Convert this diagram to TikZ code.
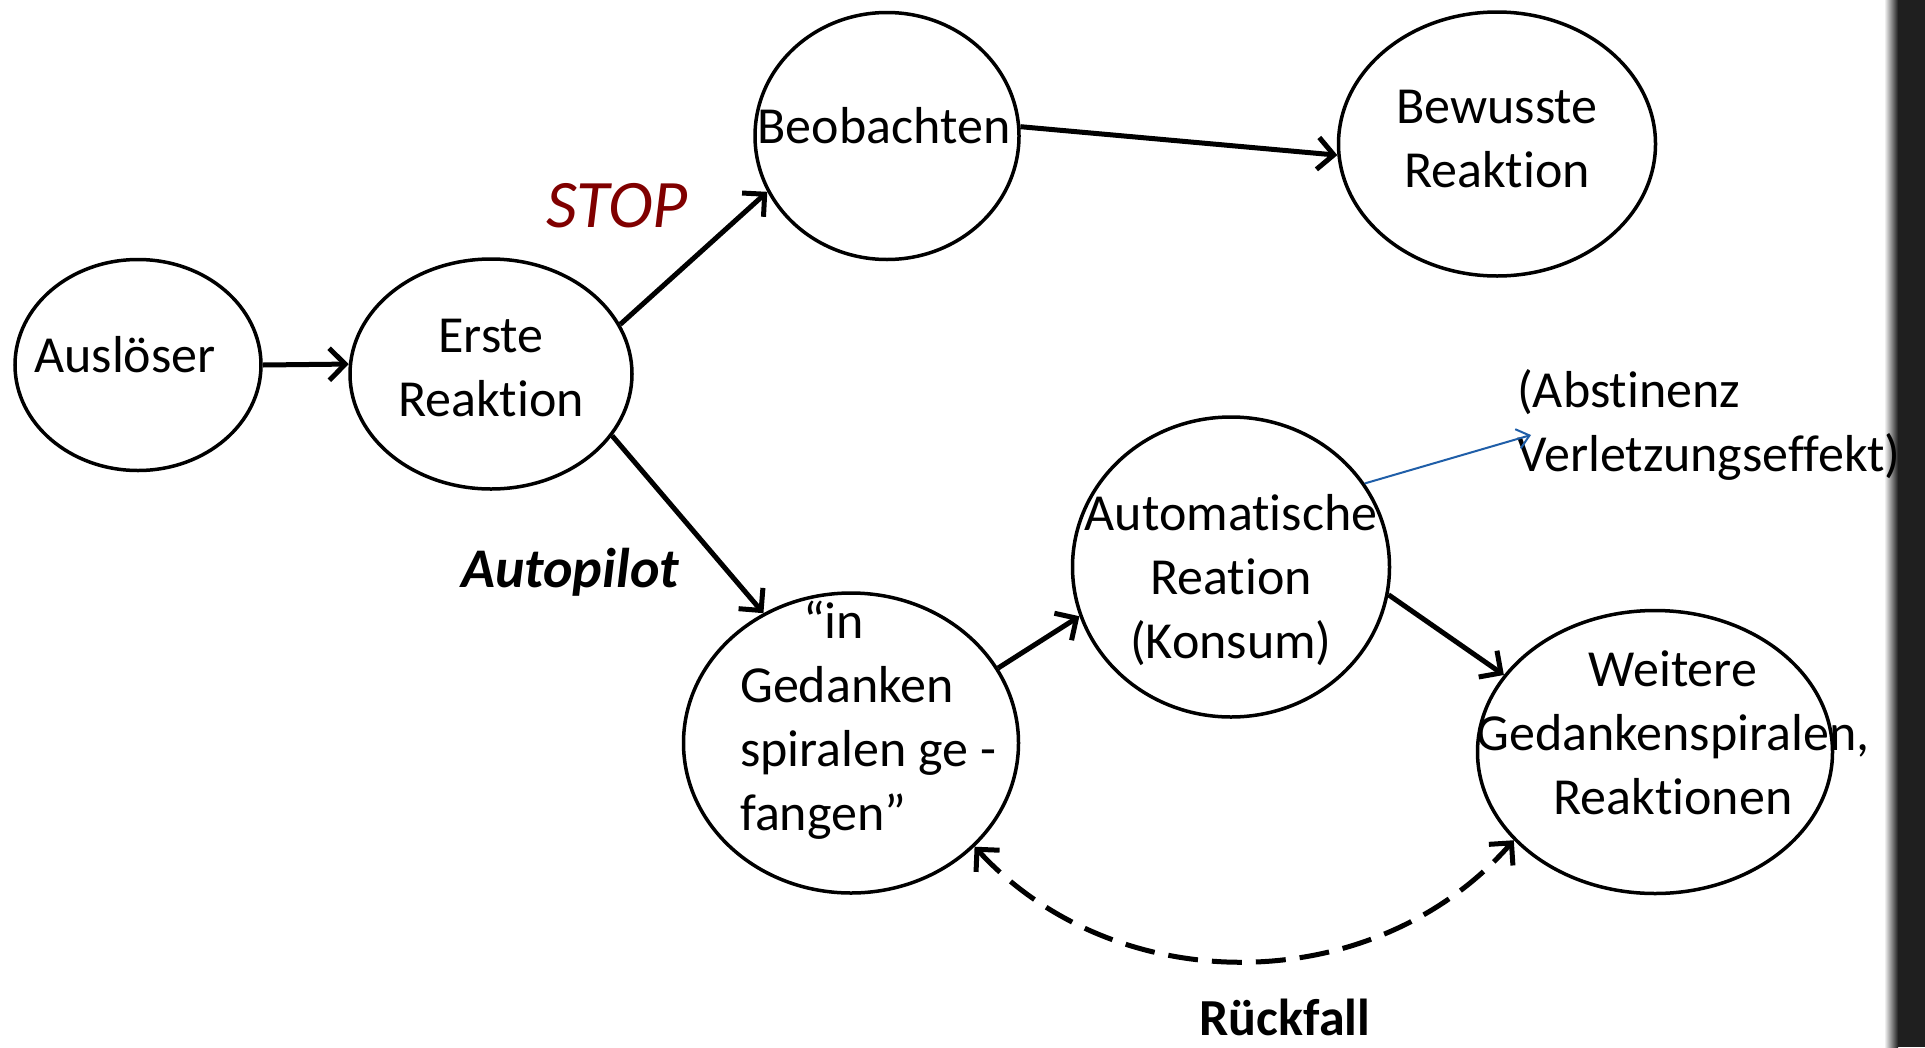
\documentclass[tikz,border=0pt]{standalone}
\usepackage{fontspec}
\setmainfont{Carlito}[Ligatures={NoCommon,NoContextual,NoRare},Contextuals=NoAlternate]
\usetikzlibrary{arrows.meta,shapes.geometric}

\definecolor{stoprot}{RGB}{128,0,0}
\definecolor{pfeilblau}{RGB}{31,94,168}

\begin{document}
\begin{tikzpicture}[x=1pt,y=-1pt,
    zustand/.style={draw,ellipse,line width=3.5pt,inner sep=0pt},
    txt/.style={font=\fontsize{52}{64}\selectfont,align=center,inner sep=0pt},
    pfeil/.style={line width=5pt,-{Straight Barb[length=16pt,width=32pt]}},
    rueckfall/.style={line width=5pt,dash pattern=on 30pt off 14pt,
        {Straight Barb[length=16pt,width=32pt]}-{Straight Barb[length=16pt,width=32pt]}}]
        % Rahmen
        \useasboundingbox (0,0) rectangle (1925,1047);
        \fill[white] (0,0) rectangle (1925,1047);
        \shade[left color=white,right color=black!88] (1884,0) rectangle (1898,1047);
        \fill[black!88] (1898,0) rectangle (1925,1047);

        % Zustaende
        \node[zustand,minimum width=246pt,minimum height=211pt] (ausloeser) at (138,365) {};
        \node[zustand,minimum width=282pt,minimum height=230pt] (erste) at (491,374) {};
        \node[zustand,minimum width=264pt,minimum height=247pt] (beobachten) at (887,136) {};
        \node[zustand,minimum width=317pt,minimum height=264pt] (bewusste) at (1497,144) {};
        \node[zustand,minimum width=317pt,minimum height=300pt] (automatische) at (1231,567) {};
        \node[zustand,minimum width=335pt,minimum height=300pt] (gedanken) at (851,743) {};
        \node[zustand,minimum width=355pt,minimum height=283pt] (weitere) at (1655,752) {};

        % Texte
        \node[txt] (ausloesertxt) at (125,355) {Auslöser};
        \node[txt] (erstetxt) at (491,368) {Erste\\Reaktion};
        \node[txt] (beobachtentxt) at (884,126) {Beobachten};
        \node[txt] (bewusstetxt) at (1497,139) {Bewusste\\Reaktion};
        \node[txt] (automatischetxt) at (1231,580) {Automatische\\Reation\\(Konsum)};
        \node[txt,align=left,anchor=west] (gedankentxt) at (740,720)
            {\hspace*{63pt}“in\\Gedanken\\spiralen ge -\\fangen”};
        \node[txt] (weiteretxt) at (1673,733) {Weitere\\Gedankenspiralen,\\Reaktionen};
        \node[txt,align=left,anchor=west] (abstinenztxt) at (1517,425)
            {(Abstinenz\\Verletzungseffekt)};

        % Beschriftungen
        \node[inner sep=0pt,text=stoprot,font=\fontsize{68}{80}\selectfont\itshape] (stop) at (617,206) {STOP};
        \node[inner sep=0pt,anchor=base,font=\fontsize{56}{66}\selectfont\bfseries\itshape] (autopilot) at (570,587) {Autopilot};
        \node[inner sep=0pt,anchor=base,font=\fontsize{52}{64}\selectfont\bfseries] (rueckfalltxt) at (1285,1035) {Rückfall};

        % Pfeile
        \draw[pfeil] (ausloeser.east) -- (erste.176);
        \draw[pfeil] (erste.21) -- (beobachten.205);
        \draw[pfeil] (beobachten.4) -- (bewusste.184);
        \draw[pfeil] (erste.-27) -- (gedanken.124);
        \draw[pfeil] (gedanken.27) -- (automatische.198);
        \draw[pfeil] (automatische.-10) -- (weitere.153);

        \coordinate (abstinenzpfeil) at (1531,435);
        \draw[pfeilblau,line width=2pt,-{Straight Barb[length=12pt,width=20pt]}] (automatische.32) -- (abstinenzpfeil);

        % Rueckfall
        \draw[rueckfall] (gedanken.-40) to[bend right=48] (weitere.212);
\end{tikzpicture}
\end{document}
